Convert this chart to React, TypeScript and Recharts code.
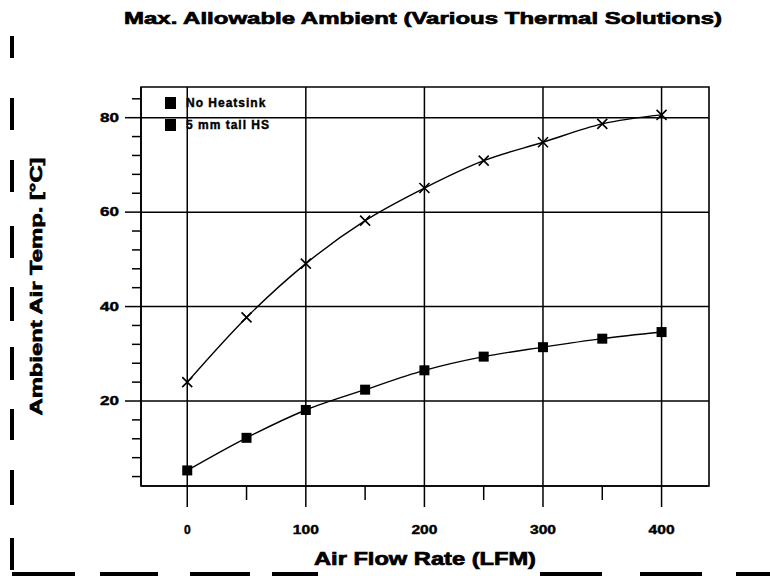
import {
  Label,
  Legend,
  Line,
  LineChart,
  ReferenceArea,
  ReferenceLine,
  XAxis,
  YAxis,
} from 'recharts';

const airFlow = [0, 50, 100, 150, 200, 250, 300, 350, 400];
const noHeatsink = [5.3, 12.2, 18.1, 22.4, 26.5, 29.4, 31.4, 33.2, 34.6];
const tallHs = [24.0, 37.7, 49.1, 58.2, 65.1, 70.9, 74.8, 78.7, 80.6];

const xTicks = [0, 50, 100, 150, 200, 250, 300, 350, 400];
const xMajor = [0, 100, 200, 300, 400];
const yTicks = [4, 8, 12, 16, 20, 24, 28, 32, 36, 40, 44, 48, 52, 56, 60, 64, 68, 72, 76, 80, 84];
const yMajor = [20, 40, 60, 80];

const X_DOMAIN: [number, number] = [-39, 440];
const Y_DOMAIN: [number, number] = [2, 86.5];

const data = airFlow.map((lfm, i) => ({ lfm, none: noHeatsink[i], hs: tallHs[i] }));

const font = '"Liberation Sans", Arial, sans-serif';
const ink = '#000';
// the scanned original has very heavy type
const heavy = { stroke: ink, strokeWidth: 0.7 };

// scan artifacts along the page edges
const leftBars = [[36, 58], [98, 130], [160, 192], [226, 258], [287, 321], [347, 380], [409, 440], [470, 505], [538, 570]];
const bottomBars = [[12, 75], [100, 158], [190, 250], [272, 318], [540, 602], [640, 702], [736, 770]];

function XTick({ x, y, payload }: any) {
  const major = payload.value % 100 === 0;
  return (
    <g>
      <line x1={x} x2={x} y1={y} y2={y + (major ? 21 : 14)} stroke={ink} strokeWidth={1.5} />
      {major && (
        <text x={x} y={y + 48} textAnchor="middle" fontSize={12} fontWeight={900} fontFamily={font} fill={ink}
          textLength={payload.value === 0 ? undefined : 26} lengthAdjust="spacingAndGlyphs" {...heavy} strokeWidth={0.4}>
          {payload.value}
        </text>
      )}
    </g>
  );
}

function YTick({ x, y, payload }: any) {
  const major = payload.value % 20 === 0;
  return (
    <g>
      <line x1={x} x2={x - (major ? 16 : 9)} y1={y} y2={y} stroke={ink} strokeWidth={1.5} />
      {major && (
        <text x={x - 22} y={y + 4} textAnchor="end" fontSize={12} fontWeight={900} fontFamily={font} fill={ink}
          textLength={19} lengthAdjust="spacingAndGlyphs" {...heavy} strokeWidth={0.4}>
          {payload.value}
        </text>
      )}
    </g>
  );
}

function SquareDot({ cx, cy }: any) {
  if (cx == null || cy == null) return null;
  return <rect x={cx - 5} y={cy - 5} width={10} height={10} fill={ink} />;
}

function CrossDot({ cx, cy }: any) {
  if (cx == null || cy == null) return null;
  const s = 5;
  return (
    <path d={`M${cx - s},${cy - s}L${cx + s},${cy + s}M${cx - s},${cy + s}L${cx + s},${cy - s}`} stroke={ink} strokeWidth={1.6} fill="none" />
  );
}

function LegendBox() {
  const rows = ['No Heatsink', '5 mm tall HS'];
  return (
    <div style={{ fontFamily: font, fontWeight: 900, fontSize: 12, lineHeight: '22px', letterSpacing: 1, whiteSpace: 'nowrap', WebkitTextStroke: '0.4px #000' }}>
      {rows.map((r) => (
        <div key={r} style={{ display: 'flex', alignItems: 'center' }}>
          <span style={{ display: 'inline-block', width: 11, height: 12, background: ink, marginRight: 10 }} />
          {r}
        </div>
      ))}
    </div>
  );
}

function XTitle({ viewBox }: any) {
  const cx = viewBox.x + viewBox.width / 2;
  return (
    <text x={cx} y={565} textAnchor="middle" fontSize={18} fontWeight={900} fontFamily={font} fill={ink}
      textLength={222} lengthAdjust="spacingAndGlyphs" {...heavy}>
      Air Flow Rate (LFM)
    </text>
  );
}

function YTitle({ viewBox }: any) {
  const cx = 36;
  const cy = viewBox.y + viewBox.height / 2;
  return (
    <text x={cx} y={cy} transform={`rotate(-90 ${cx} ${cy})`} textAnchor="middle" dominantBaseline="central"
      fontSize={17} fontWeight={900} fontFamily={font} fill={ink} textLength={258} lengthAdjust="spacingAndGlyphs" {...heavy}>
      Ambient Air Temp. [°C]
    </text>
  );
}

export default function App() {
  return (
    <div style={{ position: 'absolute', left: 0, top: 0, width: 770, height: 576, background: '#fff' }}>
      <svg width={770} height={576} style={{ position: 'absolute', left: 0, top: 0 }}>
        {leftBars.map(([a, b]) => (
          <rect key={a} x={10} y={a} width={4} height={b - a} fill={ink} />
        ))}
        {bottomBars.map(([a, b]) => (
          <rect key={a} x={a} y={572} width={b - a} height={4} fill={ink} />
        ))}
        <text x={423} y={24} textAnchor="middle" fontSize={17} fontWeight={900} fontFamily={font} fill={ink}
          textLength={598} lengthAdjust="spacingAndGlyphs" {...heavy}>
          Max. Allowable Ambient (Various Thermal Solutions)
        </text>
      </svg>
      <div style={{ position: 'absolute', left: 0, top: 0 }}>
        <LineChart width={770} height={576} data={data} margin={{ top: 87, right: 61, left: 0, bottom: 0 }}>
          <ReferenceArea x1={X_DOMAIN[0]} x2={X_DOMAIN[1]} y1={Y_DOMAIN[0]} y2={Y_DOMAIN[1]} fill="none" stroke={ink} strokeWidth={1.6} />
          {xMajor.map((v) => (
            <ReferenceLine key={'x' + v} x={v} stroke={ink} strokeWidth={1.5} />
          ))}
          {yMajor.map((v) => (
            <ReferenceLine key={'y' + v} y={v} stroke={ink} strokeWidth={1.5} />
          ))}
          <XAxis dataKey="lfm" type="number" domain={X_DOMAIN} ticks={xTicks} allowDataOverflow interval={0}
            height={90} tickSize={0} tickMargin={0} tickLine={false} axisLine={{ stroke: ink, strokeWidth: 1.6 }} tick={<XTick />}>
            <Label content={<XTitle />} />
          </XAxis>
          <YAxis type="number" domain={Y_DOMAIN} ticks={yTicks} allowDataOverflow interval={0}
            width={141} tickSize={0} tickMargin={0} tickLine={false} axisLine={{ stroke: ink, strokeWidth: 1.6 }} tick={<YTick />}>
            <Label content={<YTitle />} />
          </YAxis>
          <Legend layout="horizontal" verticalAlign="middle" align="center" content={<LegendBox />}
            wrapperStyle={{ left: 165, top: 92, width: 'auto', height: 'auto' }} />
          <Line dataKey="none" name="No Heatsink" type="monotone" stroke={ink} strokeWidth={1.4} dot={<SquareDot />} isAnimationActive={false} />
          <Line dataKey="hs" name="5 mm tall HS" type="monotone" stroke={ink} strokeWidth={1.4} dot={<CrossDot />} isAnimationActive={false} />
        </LineChart>
      </div>
    </div>
  );
}
